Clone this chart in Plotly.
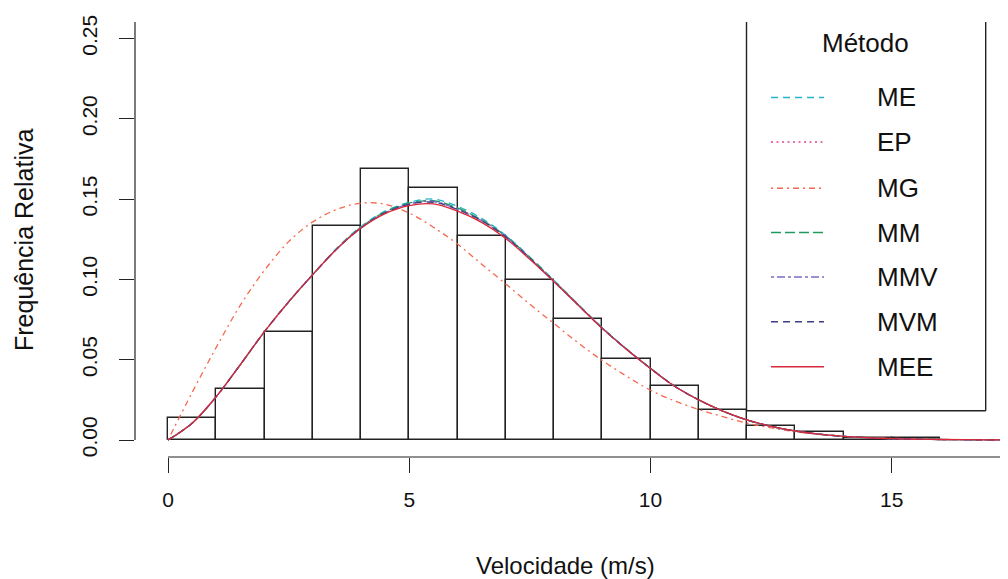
import plotly.graph_objects as go

# ---------------- data ----------------
bin_left = [0, 1, 2, 3, 4, 5, 6, 7, 8, 9, 10, 11, 12, 13, 14, 15]
freq_rel = [0.0139, 0.0318, 0.0675, 0.1332, 0.1687, 0.1571, 0.1273, 0.0998,
            0.0751, 0.0506, 0.0338, 0.0187, 0.0089, 0.0048, 0.0015, 0.0010]

vel = [0, 0.5, 1, 1.5, 2, 2.5, 3, 3.5, 4, 4.5, 5, 5.5, 6, 6.5, 7, 7.5, 8, 8.5,
       9, 9.5, 10, 10.5, 11, 11.5, 12, 12.5, 13, 13.5, 14, 14.5, 15, 16, 17, 18, 19, 20]

dens_ME = [0, 0.0105, 0.027, 0.047, 0.0675, 0.086, 0.103, 0.1195, 0.133, 0.1425,
           0.148, 0.150, 0.1455, 0.138, 0.1275, 0.114, 0.0995, 0.0845,
           0.0700, 0.0568, 0.0447, 0.0336, 0.0250, 0.0180, 0.0125, 0.0085,
           0.0056, 0.0036, 0.0023, 0.0014, 0.0008, 0.0003, 0.0001, 0.00003, 0, 0]
dens_EP = [0, 0.0105, 0.027, 0.047, 0.0675, 0.086, 0.103, 0.119, 0.1325, 0.1415,
           0.147, 0.1485, 0.144, 0.137, 0.127, 0.1135, 0.099, 0.0842,
           0.0697, 0.0566, 0.0446, 0.0335, 0.0250, 0.0180, 0.0125, 0.0085,
           0.0056, 0.0036, 0.0023, 0.0014, 0.0008, 0.0003, 0.0001, 0.00003, 0, 0]
dens_MG = [0, 0.0296, 0.0577, 0.084, 0.1057, 0.1235, 0.1358, 0.1436, 0.1475, 0.1468,
           0.1413, 0.1325, 0.1220, 0.1095, 0.0972, 0.0845, 0.0725, 0.0605,
           0.0495, 0.0398, 0.0310, 0.0243, 0.0190, 0.0145, 0.0105, 0.0075,
           0.0052, 0.0035, 0.0023, 0.0015, 0.0010, 0.0004, 0.0001, 0.00005, 0, 0]
dens_MM = [0, 0.0105, 0.027, 0.047, 0.0675, 0.086, 0.103, 0.119, 0.1325, 0.142,
           0.1475, 0.149, 0.1445, 0.137, 0.127, 0.1135, 0.099, 0.0842,
           0.0697, 0.0566, 0.0446, 0.0335, 0.0250, 0.0180, 0.0125, 0.0085,
           0.0056, 0.0036, 0.0023, 0.0014, 0.0008, 0.0003, 0.0001, 0.00003, 0, 0]
dens_MMV = [0, 0.0105, 0.027, 0.047, 0.0675, 0.086, 0.103, 0.119, 0.132, 0.1415,
            0.147, 0.1485, 0.1435, 0.1365, 0.1265, 0.113, 0.0987, 0.0841,
            0.0696, 0.0566, 0.0446, 0.0335, 0.0250, 0.0180, 0.0125, 0.0085,
            0.0056, 0.0036, 0.0023, 0.0014, 0.0008, 0.0003, 0.0001, 0.00003, 0, 0]
dens_MVM = [0, 0.0105, 0.027, 0.047, 0.0675, 0.086, 0.103, 0.119, 0.132, 0.1415,
            0.1468, 0.148, 0.1435, 0.1365, 0.1265, 0.113, 0.0987, 0.0841,
            0.0696, 0.0566, 0.0446, 0.0335, 0.0250, 0.0180, 0.0125, 0.0085,
            0.0056, 0.0036, 0.0023, 0.0014, 0.0008, 0.0003, 0.0001, 0.00003, 0, 0]
dens_MEE = [0, 0.0105, 0.027, 0.047, 0.0675, 0.086, 0.103, 0.119, 0.132, 0.141,
            0.146, 0.147, 0.1425, 0.1355, 0.1255, 0.1125, 0.0985, 0.0840,
            0.0695, 0.0565, 0.0445, 0.0335, 0.0250, 0.0180, 0.0125, 0.0085,
            0.0056, 0.0036, 0.0023, 0.0014, 0.0008, 0.0003, 0.0001, 0.00003, 0, 0]

methods = ["ME", "EP", "MG", "MM", "MMV", "MVM", "MEE"]
series = [dens_ME, dens_EP, dens_MG, dens_MM, dens_MMV, dens_MVM, dens_MEE]
colors = ["#22B7C6", "#E0458E", "#F4694E", "#1E9A5C", "#7B6CC6", "#3E3D86", "#D8283A"]
dashes = ["7px,5px", "2px,3.5px", "2px,4px,6px,4px", "10px,4px",
          "3px,3px,8px,3px", "7px,5px", "solid"]

x_ticks = [0, 5, 10, 15]
y_ticks = [0.00, 0.05, 0.10, 0.15, 0.20, 0.25]

# ---------------- layout geometry ----------------
# target positions are given in page pixels; the page body has an 8px margin
OFF = 8
PAGE_W, PAGE_H = 1008, 579
PL, PT, PR_EDGE, PB_EDGE = 135, 22, 1008, 457   # plot area in page px
W, H = PAGE_W - OFF, PAGE_H - OFF
PW, PH = PR_EDGE - PL, PB_EDGE - PT
px_per_x = 48.25
x0_px = 168.0
y0_px = 440.0
px_per_y = 1606.0

def paper_x(px):
    return (px - PL) / PW

def paper_y(py):
    return (PB_EDGE - py) / PH

FONT = "Liberation Sans, Arial, sans-serif"
TICK_SIZE = 21
XTITLE_SIZE = 24
YTITLE_SIZE = 25
LEG_SIZE = 26

fig = go.Figure()

fig.add_trace(go.Bar(
    x=[b + 0.5 for b in bin_left], y=freq_rel, width=1,
    marker=dict(color="rgba(255,255,255,0)", line=dict(color="#222222", width=1.4)),
    showlegend=False, hoverinfo="skip"))

for name, ys, col, d in zip(methods, series, colors, dashes):
    fig.add_trace(go.Scatter(
        x=vel, y=ys, mode="lines", name=name,
        line=dict(color=col, width=1.3, dash=d, shape="spline", smoothing=1.0),
        showlegend=False))

x_range = [(PL - x0_px) / px_per_x, (PR_EDGE - x0_px) / px_per_x]
y_range = [(y0_px - PB_EDGE) / px_per_y, (y0_px - PT) / px_per_y]

fig.update_layout(
    width=W, height=H,
    margin=dict(l=PL - OFF, r=PAGE_W - PR_EDGE, t=PT - OFF, b=PAGE_H - PB_EDGE, pad=0),
    paper_bgcolor="white", plot_bgcolor="white",
    font=dict(family=FONT, size=TICK_SIZE, color="#111111"),
    bargap=0,
    xaxis=dict(range=x_range, tickvals=x_ticks, ticktext=[str(v) for v in x_ticks],
               showgrid=False, zeroline=False, showline=False,
               ticks="outside", ticklen=15, tickwidth=1.2, tickcolor="#222222",
               tickfont=dict(size=TICK_SIZE, family=FONT, color="#111111"),
               ticklabelstandoff=9),
    yaxis=dict(range=y_range, tickvals=y_ticks, ticktext=[f"{v:.2f}" for v in y_ticks],
               showgrid=False, zeroline=False, showline=False,
               ticks="outside", ticklen=15, tickwidth=1.2, tickcolor="#222222",
               tickangle=-90, tickfont=dict(size=TICK_SIZE, family=FONT, color="#111111"),
               ticklabelstandoff=14),
)

shapes = []
# x axis line (from 0 to right edge)
shapes.append(dict(type="line", xref="paper", yref="paper",
                   x0=paper_x(x0_px), x1=1.0, y0=0, y1=0,
                   line=dict(color="#222222", width=1.2)))
# y axis line
shapes.append(dict(type="line", xref="paper", yref="paper",
                   x0=0, x1=0, y0=paper_y(y0_px), y1=1.0,
                   line=dict(color="#222222", width=1.2)))
# legend box (left, right, bottom)
bx0, bx1, by0 = paper_x(746.5), paper_x(985.7), paper_y(410.7)
for seg in [(bx0, bx0, by0, 1.0), (bx1, bx1, by0, 1.0), (bx0, bx1, by0, by0)]:
    shapes.append(dict(type="line", xref="paper", yref="paper",
                       x0=seg[0], x1=seg[1], y0=seg[2], y1=seg[3],
                       line=dict(color="#222222", width=1.4)))

row_y = [97.5, 142.0, 188.3, 232.5, 277.0, 321.8, 366.8]
annotations = []
annotations.append(dict(text="Método", xref="paper", yref="paper",
                        x=paper_x(865), y=paper_y(43), xanchor="center", yanchor="middle",
                        showarrow=False, font=dict(size=LEG_SIZE, family=FONT, color="#111111")))
for name, col, d, ry in zip(methods, colors, dashes, row_y):
    shapes.append(dict(type="line", xref="paper", yref="paper",
                       x0=paper_x(771), x1=paper_x(824), y0=paper_y(ry), y1=paper_y(ry),
                       line=dict(color=col, width=1.4, dash=d)))
    annotations.append(dict(text=name, xref="paper", yref="paper",
                            x=paper_x(875), y=paper_y(ry), xanchor="left", yanchor="middle",
                            showarrow=False, font=dict(size=LEG_SIZE, family=FONT, color="#111111")))

annotations.append(dict(text="Velocidade (m/s)", xref="paper", yref="paper",
                        x=paper_x(565), y=paper_y(565), xanchor="center", yanchor="middle",
                        showarrow=False, font=dict(size=XTITLE_SIZE, family=FONT, color="#111111")))
annotations.append(dict(text="Frequência Relativa", xref="paper", yref="paper",
                        x=paper_x(24), y=paper_y(240), xanchor="center", yanchor="middle",
                        textangle=-90, showarrow=False,
                        font=dict(size=YTITLE_SIZE, family=FONT, color="#111111")))

fig.update_layout(shapes=shapes, annotations=annotations)

fig.write_html("out.html")
